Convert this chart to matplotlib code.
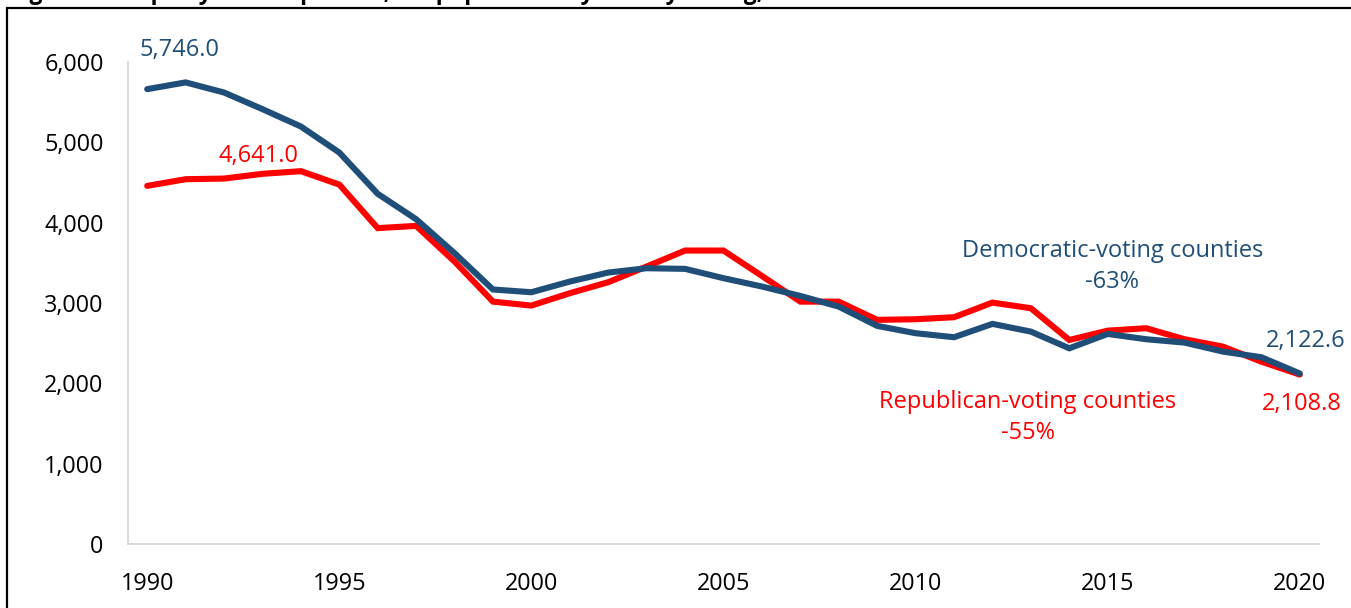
import matplotlib
matplotlib.use("Agg")
import matplotlib.pyplot as plt
from matplotlib.patches import Rectangle
from matplotlib.ticker import FuncFormatter

years = list(range(1990, 2021))
democratic = [5662, 5746, 5620, 5413, 5197, 4873, 4359, 4043, 3620, 3168,
              3134, 3267, 3379, 3433, 3425, 3309, 3205, 3088, 2955, 2715,
              2624, 2574, 2740, 2644, 2436, 2615, 2549, 2507, 2395, 2325,
              2122.6]
republican = [4458, 4541, 4549, 4608, 4641, 4474, 3932, 3960, 3516, 3017,
              2968, 3122, 3259, 3454, 3653, 3653, 3337, 3017, 3017, 2790,
              2798, 2823, 3005, 2935, 2540, 2656, 2686, 2549, 2457, 2270,
              2108.8]
x_ticks = [1990, 1995, 2000, 2005, 2010, 2015, 2020]
y_ticks = [0, 1000, 2000, 3000, 4000, 5000, 6000]

title = "Figure 3: Property crimes per 100,000 population by county voting, 1990-2020"
dem_label = "Democratic-voting counties\n-63%"
rep_label = "Republican-voting counties\n-55%"

BLUE = "#1F4E79"
RED = "#FF0000"
FONT = ["Open Sans", "DejaVu Sans"]
plt.rcParams["font.family"] = FONT

W, H = 1351, 608
fig = plt.figure(figsize=(W / 100, H / 100), dpi=100)
ax = fig.add_axes([128 / W, 1 - 544 / H, (1319 - 128) / W, (544 - 62) / H])

ax.plot(years, democratic, color=BLUE, lw=4.4, solid_joinstyle="miter", solid_capstyle="round", zorder=3)
ax.plot(years, republican, color=RED, lw=4.4, solid_joinstyle="miter", solid_capstyle="round", zorder=2)

ax.set_xlim(1989.5, 2020.5)
ax.set_ylim(0, 6000)
ax.set_xticks(x_ticks)
ax.set_yticks(y_ticks)
ax.yaxis.set_major_formatter(FuncFormatter(lambda v, p: f"{v:,.0f}"))
ax.tick_params(axis="both", length=0, labelsize=16.8, colors="black")
ax.tick_params(axis="y", pad=17.5)
ax.tick_params(axis="x", pad=20)
for s in ["top", "right"]:
    ax.spines[s].set_visible(False)
for s in ["left", "bottom"]:
    ax.spines[s].set_color("#D9D9D9")
    ax.spines[s].set_linewidth(1.5)

fs = 17
# peak / end labels
ax.annotate(f"{democratic[1]:,.1f}", xy=(years[1], democratic[1]), xytext=(-6, 32),
            textcoords="offset pixels", ha="center", va="center", color=BLUE, fontsize=fs)
ax.annotate(f"{republican[4]:,.1f}", xy=(years[4], republican[4]), xytext=(-42, 15),
            textcoords="offset pixels", ha="center", va="center", color=RED, fontsize=fs)
ax.annotate(f"{democratic[-1]:,.1f}", xy=(years[-1], democratic[-1]), xytext=(6, 32),
            textcoords="offset pixels", ha="center", va="center", color=BLUE, fontsize=fs,
            annotation_clip=False)
ax.annotate(f"{republican[-1]:,.1f}", xy=(years[-1], republican[-1]), xytext=(2, -29),
            textcoords="offset pixels", ha="center", va="center", color=RED, fontsize=fs,
            annotation_clip=False)

# series labels
ax.text(2015.12, 3450, dem_label, ha="center", va="center", color=BLUE, fontsize=fs,
        linespacing=1.4)
ax.text(2012.92, 1575, rep_label, ha="center", va="center", color=RED, fontsize=fs,
        linespacing=1.4)

# border box (extends past right and bottom edges)
fig.patches.append(Rectangle((7 / W, -0.2), 1.2, (1 - 8 / H) + 0.2, transform=fig.transFigure,
                             fill=False, edgecolor="black", lw=1.6, clip_on=False))

# clipped title at the very top
fig.text(10 / W, 1 + 1 / H, title, ha="left", va="baseline", fontsize=16.5,
         fontweight="bold", color="black")

fig.savefig("out.png", dpi=100)
